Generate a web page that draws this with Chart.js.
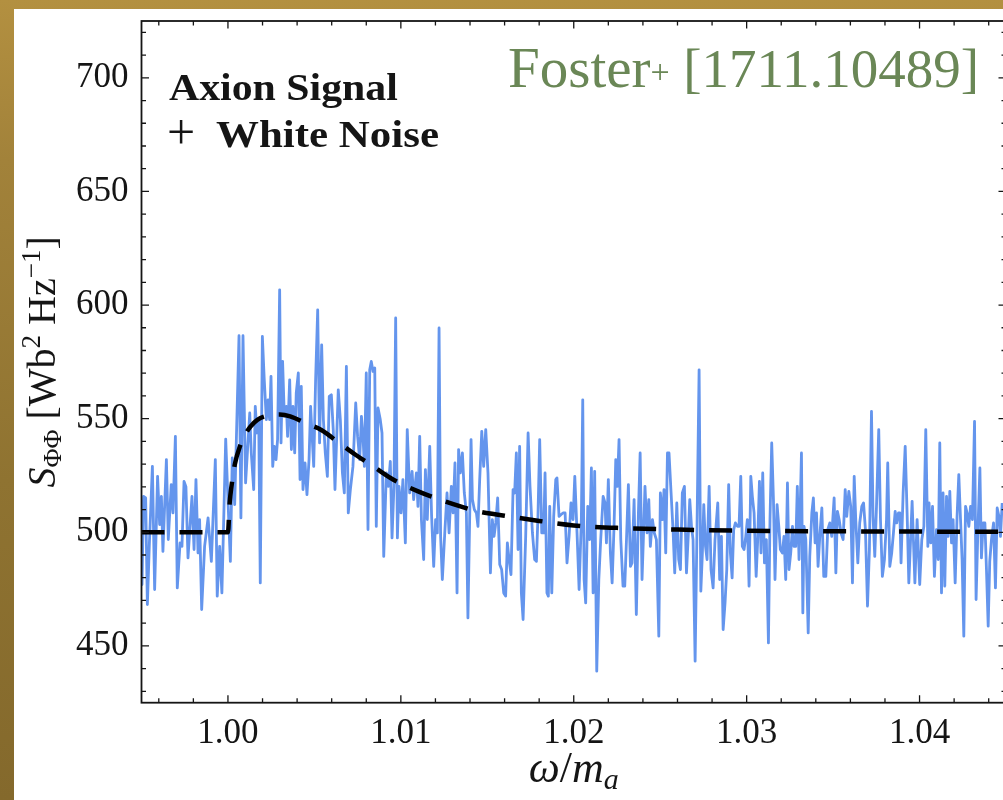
<!DOCTYPE html>
<html>
<head>
<meta charset="utf-8">
<script src="https://cdn.jsdelivr.net/npm/chart.js@4"></script>
<style>
  html, body { margin: 0; padding: 0; width: 1003px; height: 800px; overflow: hidden; }
  body { background: linear-gradient(180deg, #b39040 0%, #a2823a 20%, #8f7331 60%, #84692c 100%); position: relative; }
  #panel { position: absolute; left: 14px; top: 9px; right: 0; bottom: 0; background: #fff; }
  #c { position: absolute; left: 0; top: 0; }
</style>
</head>
<body>
<div id="panel"></div>
<canvas id="c" width="1012" height="800"></canvas>
<script>
// measured spectrum: frequency (omega / m_a) and power
const omega = [
  0.99493, 0.99503, 0.99512, 0.99524, 0.99534, 0.99545, 0.99563, 0.99576, 0.99593, 0.99605,
  0.99615, 0.99624, 0.99644, 0.99655, 0.99672, 0.99682, 0.99696, 0.99707, 0.99723, 0.99734,
  0.99746, 0.99757, 0.99769, 0.99778, 0.99792, 0.99804, 0.99815, 0.99827, 0.99836, 0.99848,
  0.99865, 0.99885, 0.99904, 0.99927, 0.99938, 0.99952, 0.99965, 0.99987, 1.00000, 1.00014,
  1.00025, 1.00039, 1.00064, 1.00075, 1.00087, 1.00102,
  1.00126, 1.00135, 1.00149, 1.00158, 1.00168, 1.00178, 1.00187, 1.00199, 1.00210, 1.00222,
  1.00232, 1.00241, 1.00249, 1.00259, 1.00268, 1.00278, 1.00287, 1.00299, 1.00307, 1.00316,
  1.00326, 1.00338, 1.00345, 1.00357, 1.00367, 1.00376, 1.00386, 1.00395, 1.00407, 1.00417,
  1.00424, 1.00434, 1.00446, 1.00457, 1.00469, 1.00478, 1.00496, 1.00507, 1.00519, 1.00530,
  1.00542, 1.00552, 1.00563, 1.00575, 1.00586, 1.00598, 1.00609, 1.00619, 1.00631, 1.00638,
  1.00650, 1.00662, 1.00673, 1.00685, 1.00696, 1.00708, 1.00723, 1.00739, 1.00750,
  1.00762, 1.00772, 1.00781, 1.00789, 1.00800, 1.00810, 1.00820, 1.00829, 1.00839, 1.00849,
  1.00858, 1.00868, 1.00881, 1.00891, 1.00901, 1.00916, 1.00928, 1.00939, 1.00949, 1.00960,
  1.00970, 1.00980, 1.00989, 1.01001, 1.01012, 1.01026, 1.01037, 1.01051, 1.01065, 1.01074,
  1.01090, 1.01099, 1.01109, 1.01119, 1.01132, 1.01142, 1.01153, 1.01167, 1.01178, 1.01190,
  1.01201, 1.01211, 1.01221, 1.01230, 1.01240, 1.01254, 1.01267, 1.01279, 1.01292, 1.01302,
  1.01313, 1.01325, 1.01334, 1.01344, 1.01356, 1.01367, 1.01379, 1.01388,
  1.01406, 1.01414, 1.01425, 1.01437, 1.01446, 1.01456, 1.01468, 1.01479, 1.01491, 1.01504,
  1.01518, 1.01529, 1.01539, 1.01549, 1.01560, 1.01572, 1.01583, 1.01595, 1.01606, 1.01616,
  1.01626, 1.01637, 1.01649, 1.01658, 1.01668, 1.01678, 1.01687, 1.01697, 1.01707, 1.01722,
  1.01736, 1.01747, 1.01761, 1.01774, 1.01784, 1.01793, 1.01803, 1.01815, 1.01826, 1.01834,
  1.01845, 1.01853, 1.01861, 1.01873, 1.01884, 1.01896, 1.01903, 1.01915, 1.01927, 1.01938,
  1.01950, 1.01961, 1.01973, 1.01984, 1.01996, 1.02006, 1.02019, 1.02031,
  1.02044, 1.02052, 1.02060, 1.02069, 1.02081, 1.02092, 1.02102, 1.02112, 1.02121, 1.02133,
  1.02145, 1.02156, 1.02170, 1.02181, 1.02189, 1.02200, 1.02212, 1.02222, 1.02233, 1.02243,
  1.02252, 1.02262, 1.02272, 1.02285, 1.02295, 1.02305, 1.02316, 1.02328, 1.02337, 1.02349,
  1.02362, 1.02374, 1.02384, 1.02395, 1.02405, 1.02412, 1.02424, 1.02434, 1.02443, 1.02455,
  1.02466, 1.02478, 1.02492, 1.02501, 1.02513, 1.02522, 1.02532, 1.02542, 1.02551, 1.02563,
  1.02575, 1.02584, 1.02596, 1.02607, 1.02617, 1.02628, 1.02640, 1.02652, 1.02663,
  1.02671, 1.02681, 1.02690, 1.02702, 1.02713, 1.02725, 1.02735, 1.02744, 1.02752, 1.02762,
  1.02771, 1.02783, 1.02794, 1.02806, 1.02817, 1.02833, 1.02844, 1.02854, 1.02864, 1.02875,
  1.02885, 1.02896, 1.02906, 1.02916, 1.02925, 1.02935, 1.02947, 1.02956, 1.02966, 1.02975,
  1.02985, 1.02995, 1.03004, 1.03014, 1.03024, 1.03033, 1.03043, 1.03055, 1.03064, 1.03074,
  1.03083, 1.03093, 1.03103, 1.03114, 1.03126, 1.03135, 1.03145, 1.03155, 1.03164, 1.03176,
  1.03186, 1.03195, 1.03207, 1.03216, 1.03226, 1.03236, 1.03245, 1.03255, 1.03265, 1.03274,
  1.03284, 1.03293, 1.03303,
  1.03317, 1.03325, 1.03332, 1.03342, 1.03356, 1.03365, 1.03377, 1.03386, 1.03396, 1.03404,
  1.03413, 1.03423, 1.03435, 1.03446, 1.03458, 1.03469, 1.03481, 1.03492, 1.03506, 1.03516,
  1.03525, 1.03535, 1.03546, 1.03558, 1.03570, 1.03579, 1.03591, 1.03602, 1.03612, 1.03622,
  1.03631, 1.03643, 1.03654, 1.03666, 1.03676, 1.03687, 1.03699, 1.03710, 1.03722, 1.03731,
  1.03741, 1.03751, 1.03764, 1.03774, 1.03785, 1.03797, 1.03809, 1.03816, 1.03828, 1.03839,
  1.03849, 1.03859, 1.03868, 1.03878,
  1.03886, 1.03893, 1.03905, 1.03917, 1.03928, 1.03938, 1.03957, 1.03973, 1.03986, 1.04001,
  1.04013, 1.04025, 1.04036, 1.04048, 1.04055, 1.04065, 1.04075, 1.04086, 1.04098, 1.04108,
  1.04117, 1.04127, 1.04136, 1.04146, 1.04156, 1.04165, 1.04175, 1.04185, 1.04194, 1.04206,
  1.04217, 1.04227, 1.04237, 1.04246, 1.04256, 1.04266, 1.04275, 1.04285, 1.04295, 1.04306,
  1.04318, 1.04327, 1.04337, 1.04349, 1.04358, 1.04368, 1.04378, 1.04387, 1.04397, 1.04406,
  1.04416, 1.04428, 1.04439, 1.04449, 1.04459, 1.04468, 1.04478
];
const power = [
  524.6, 477.0, 515.8, 515.1, 468.2, 493.8, 529.0, 474.8, 524.6, 503.4,
  515.8, 491.6, 532.0, 496.8, 521.0, 508.5, 542.2, 475.5, 495.3, 493.8,
  522.4, 520.0, 488.7, 499.7, 515.8, 492.4, 523.2, 490.9, 505.6, 466.0,
  493.8, 506.3, 487.2, 532.0, 471.9, 493.8, 473.3, 541.0, 514.4, 487.2,
  532.7, 512.2, 586.5, 506.3, 586.5, 521.7,
  552.5, 534.9, 518.8, 555.4, 543.7, 549.6, 477.7, 586.2, 567.1, 549.6,
  558.3, 549.6, 568.6, 529.0, 537.8, 532.0, 540.8, 606.7, 539.3, 575.2,
  551.0, 555.4, 542.2, 567.1, 536.4, 555.4, 534.9, 561.3, 570.1, 523.2,
  564.2, 518.8, 530.5, 516.6, 532.0, 555.4, 529.0, 567.1, 597.9, 539.3,
  582.5, 549.6, 534.9, 524.6, 559.8, 560.5, 545.2, 518.8, 546.6, 562.7,
  549.6, 526.1, 517.3, 573.0, 508.5, 518.8, 529.0, 556.9, 542.2,
  532.0, 551.0, 542.2, 529.0, 570.1, 501.2, 571.5, 575.2, 570.8, 572.3,
  502.6, 554.7, 549.6, 543.7, 489.4, 526.1, 520.2, 531.2, 497.5, 520.2,
  594.3, 497.5, 520.2, 508.5, 523.2, 495.3, 545.2, 517.3, 526.8, 514.4,
  526.1, 511.4, 542.2, 505.6, 488.0, 527.6, 505.6, 537.8, 507.0, 485.0,
  505.6, 499.7, 589.9, 498.2, 479.2, 499.7, 517.3, 499.7, 520.2, 508.5,
  530.5, 473.3, 536.4, 526.1, 534.9, 517.3, 508.5, 462.3,
  540.8, 514.4, 510.0, 508.5, 502.6, 523.2, 544.4, 529.0, 545.2, 526.1,
  482.1, 505.6, 498.2, 504.1, 515.1, 485.8, 483.6, 473.3, 471.9, 495.3,
  488.0, 481.4, 518.8, 517.3, 534.9, 492.4, 537.8, 473.3, 461.6, 498.2,
  543.7, 520.2, 499.7, 488.0, 487.2, 507.0, 540.8, 499.7, 499.7, 526.1,
  473.3, 471.9, 511.4, 473.3, 507.0, 523.2, 523.9, 507.0, 507.8, 508.5,
  508.5, 486.5, 498.2, 512.9, 505.6, 524.6, 499.7, 474.8,
  505.6, 558.3, 479.2, 468.9, 511.4, 496.8, 528.3, 473.3, 526.8, 438.9,
  479.2, 496.8, 515.8, 512.9, 495.3, 523.2, 490.9, 477.7, 502.6, 532.0,
  520.2, 540.8, 496.8, 476.3, 476.3, 496.8, 521.0, 485.0, 486.5, 514.4,
  463.8, 508.5, 534.9, 479.2, 502.6, 520.2, 499.7, 514.4, 493.8, 505.6,
  499.7, 496.8, 454.3, 517.3, 505.6, 518.8, 490.9, 534.9, 534.9, 517.3,
  499.7, 482.1, 512.9, 488.0, 483.6, 517.3, 520.2, 482.1, 499.7,
  514.4, 502.6, 496.8, 443.3, 502.6, 571.5, 474.1, 490.9, 512.2, 493.8,
  488.0, 520.2, 483.6, 475.5, 496.8, 512.9, 479.2, 498.2, 457.2, 468.9,
  483.6, 521.0, 490.9, 479.9, 501.2, 504.1, 502.6, 502.6, 524.6, 493.8,
  492.4, 498.2, 505.6, 476.3, 524.6, 515.8, 508.5, 480.6, 496.8, 522.4,
  490.9, 526.1, 486.5, 496.8, 451.3, 505.6, 539.3, 514.4, 479.2, 512.2,
  502.6, 492.4, 490.9, 498.2, 479.2, 521.7, 483.6, 490.9, 502.6, 493.8,
  493.8, 520.2, 488.0,
  534.9, 464.5, 502.6, 496.8, 455.7, 489.4, 508.5, 515.1, 495.3, 508.5,
  485.0, 498.2, 510.7, 480.6, 480.6, 501.2, 504.1, 498.2, 515.1, 482.1,
  509.2, 505.6, 499.7, 496.8, 518.8, 507.0, 518.0, 511.4, 477.7, 524.6,
  505.6, 486.5, 504.1, 511.4, 512.9, 501.2, 467.5, 492.4, 553.2, 507.0,
  489.4, 511.4, 545.2, 505.6, 480.6, 488.0, 505.6, 530.5, 485.0, 490.9,
  499.7, 509.2, 504.1, 508.5,
  508.5, 486.5, 517.3, 537.8, 508.5, 477.7, 513.6, 477.7, 505.6, 477.0,
  496.8, 502.6, 545.2, 493.8, 512.9, 495.3, 511.4, 480.6, 501.2, 488.0,
  539.3, 473.3, 517.3, 476.3, 515.8, 498.2, 518.0, 495.3, 505.6, 477.7,
  507.0, 525.4, 505.6, 488.0, 454.3, 511.4, 508.5, 502.6, 511.4, 505.6,
  548.8, 470.4, 499.7, 528.3, 488.7, 504.1, 504.1, 483.6, 458.7, 487.2,
  496.8, 504.1, 475.5, 510.7, 507.0, 498.2, 512.9
];

// expected axion line shape on top of the noise floor
const signalOmega = [
  0.995, 1.0000, 1.0001, 1.0002, 1.0004, 1.0007, 1.0010, 1.0013, 1.0017, 1.0023,
  1.0030, 1.0036, 1.0045, 1.0054, 1.0064, 1.0074, 1.0084, 1.0096, 1.0110, 1.0124,
  1.0134, 1.0144, 1.0160, 1.0180, 1.0200, 1.0230, 1.0260, 1.0300, 1.0360, 1.0450
];
const signalPower = [
  500.0, 500.0, 513.0, 520.0, 530.0, 538.0, 543.0, 546.5, 549.5, 551.3,
  551.8, 551.0, 548.0, 545.0, 539.5, 534.0, 529.0, 523.0, 518.0, 514.0,
  511.5, 509.3, 507.3, 505.0, 503.0, 501.8, 501.2, 500.7, 500.4, 500.2
];

const xTicks = [1.00, 1.01, 1.02, 1.03, 1.04];
const yTicks = [450, 500, 550, 600, 650, 700];

const SERIF = '"Liberation Serif", "DejaVu Serif", serif';
const INK = '#151515';

// draw a row of differently styled text pieces, each with its own vertical shift
function drawRuns(ctx, runs, x, y, align) {
  let total = 0;
  runs.forEach(r => { ctx.font = r.font; r.w = ctx.measureText(r.t).width; total += r.w; });
  let cx = align === 'center' ? x - total / 2 : (align === 'right' ? x - total : x);
  runs.forEach(r => {
    ctx.font = r.font;
    ctx.fillText(r.t, cx, y + (r.dy || 0));
    cx += r.w;
  });
}

// box with inward ticks on all four sides
const framePlugin = {
  id: 'frame',
  afterDatasetsDraw(chart) {
    const { ctx, chartArea: a, scales: { x, y } } = chart;
    ctx.save();
    ctx.strokeStyle = INK;
    ctx.lineWidth = 1.3;
    ctx.beginPath();
    const xMark = (v, len) => {
      const px = x.getPixelForValue(v);
      ctx.moveTo(px, a.bottom); ctx.lineTo(px, a.bottom - len);
      ctx.moveTo(px, a.top); ctx.lineTo(px, a.top + len);
    };
    const yMark = (v, len) => {
      const py = y.getPixelForValue(v);
      ctx.moveTo(a.left, py); ctx.lineTo(a.left + len, py);
      ctx.moveTo(a.right, py); ctx.lineTo(a.right - len, py);
    };
    for (let k = 498; k <= 522; k++) xMark(k * 0.002, k % 5 === 0 ? 7.5 : 4.5);
    for (let k = 43; k <= 72; k++) yMark(k * 10, k % 5 === 0 ? 7.5 : 4.5);
    ctx.stroke();
    ctx.lineWidth = 1.8;
    ctx.strokeRect(a.left, a.top, a.right - a.left, a.bottom - a.top);
    ctx.restore();
  },
  afterDraw(chart) {
    const { ctx, chartArea: a } = chart;
    ctx.save();
    ctx.fillStyle = INK;
    ctx.textBaseline = 'alphabetic';

    // x axis title
    drawRuns(ctx, [
      { t: 'ω', font: 'italic 44px ' + SERIF },
      { t: '/', font: '44px ' + SERIF },
      { t: 'm', font: 'italic 44px ' + SERIF },
      { t: 'a', font: 'italic 30px ' + SERIF, dy: 7 }
    ], (a.left + a.right) / 2, 782, 'center');

    // y axis title, rotated
    ctx.save();
    ctx.translate(55, (a.top + a.bottom) / 2);
    ctx.rotate(-Math.PI / 2);
    drawRuns(ctx, [
      { t: 'S', font: 'italic 40px ' + SERIF },
      { t: 'ΦΦ', font: '26px ' + SERIF, dy: 6 },
      { t: ' [Wb', font: '40px ' + SERIF },
      { t: '2', font: '27px ' + SERIF, dy: -15 },
      { t: ' Hz', font: '40px ' + SERIF },
      { t: '−1', font: '27px ' + SERIF, dy: -15 },
      { t: ']', font: '40px ' + SERIF }
    ], 0, 0, 'center');
    ctx.restore();

    // annotation in the upper left
    ctx.font = '50px ' + SERIF;
    ctx.fillText('+', 167, 149);
    ctx.save();
    ctx.translate(169, 0);
    ctx.scale(1.1, 1);
    ctx.font = 'bold 38px ' + SERIF;
    ctx.fillText('Axion Signal', 0, 100);
    ctx.restore();
    ctx.save();
    ctx.translate(216, 0);
    ctx.scale(1.13, 1);
    ctx.font = 'bold 38px ' + SERIF;
    ctx.fillText('White Noise', 0, 146.5);
    ctx.restore();

    // reference tag
    ctx.fillStyle = '#6a8756';
    drawRuns(ctx, [
      { t: 'Foster', font: '57px ' + SERIF },
      { t: '+', font: '34px ' + SERIF, dy: -4 }
    ], 508, 87, 'left');
    drawRuns(ctx, [{ t: '[1711.10489]', font: '55px ' + SERIF }], 979, 87, 'right');
    ctx.restore();
  }
};

const tickFont = { family: SERIF, size: 35 };

new Chart(document.getElementById('c'), {
  type: 'line',
  data: {
    datasets: [{
      label: 'signal',
      data: signalOmega.map((v, i) => ({ x: v, y: signalPower[i] })),
      borderColor: '#000',
      borderWidth: 4.5,
      borderDash: [23, 15],
      cubicInterpolationMode: 'monotone',
      pointRadius: 0,
      fill: false
    }, {
      label: 'noise',
      data: omega.map((v, i) => ({ x: v, y: power[i] })),
      borderColor: '#6495ED',
      borderWidth: 2.8,
      borderJoinStyle: 'round',
      pointRadius: 0,
      tension: 0,
      fill: false
    }]
  },
  options: {
    responsive: false,
    devicePixelRatio: 1,
    animation: false,
    layout: { padding: { top: 21, right: 6, bottom: 0, left: 0 } },
    plugins: { legend: { display: false }, tooltip: { enabled: false } },
    scales: {
      x: {
        type: 'linear',
        min: 0.995,
        max: 1.045,
        grid: { display: false, drawTicks: false, tickLength: 0 },
        border: { display: false },
        afterBuildTicks: s => { s.ticks = xTicks.map(v => ({ value: v })); },
        afterFit: s => { s.height = 97.3; s.paddingLeft = 0; s.paddingRight = 0; },
        ticks: {
          font: tickFont, color: INK, padding: 10, autoSkip: false, maxRotation: 0,
          callback: v => Number(v).toFixed(2)
        }
      },
      y: {
        type: 'linear',
        min: 425,
        max: 725,
        grid: { display: false, drawTicks: false, tickLength: 0 },
        border: { display: false },
        afterBuildTicks: s => { s.ticks = yTicks.map(v => ({ value: v })); },
        afterFit: s => { s.width = 141.5; s.paddingTop = 0; s.paddingBottom = 0; },
        ticks: { font: tickFont, color: INK, padding: 13, callback: v => String(v) }
      }
    }
  },
  plugins: [framePlugin]
});
</script>
</body>
</html>
